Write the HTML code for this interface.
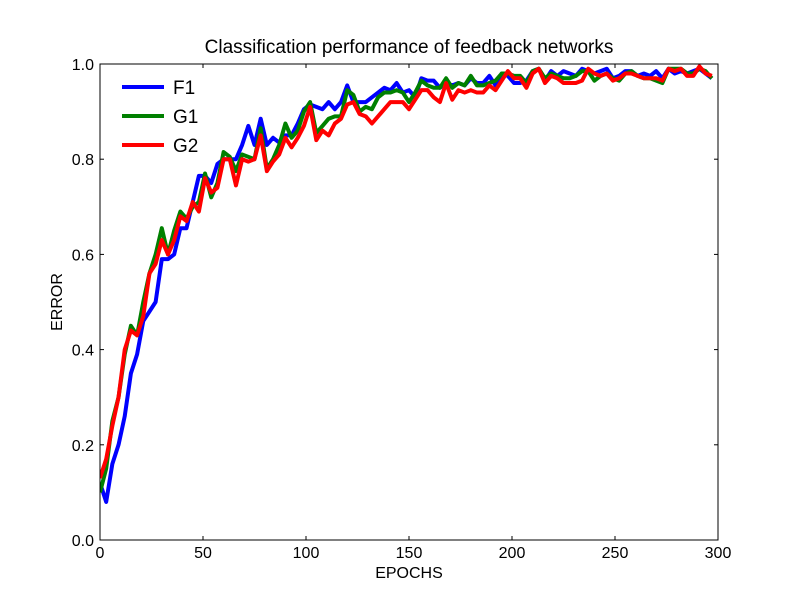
<!DOCTYPE html>
<html><head><meta charset="utf-8"><style>body{margin:0;background:#fff}svg{font-family:"Liberation Sans","DejaVu Sans",sans-serif}</style></head>
<body>
<svg id="chart" width="800" height="600">
<rect width="800" height="600" fill="#fff"/>
</svg>
<script>
const epochs=[];for(let i=0;i<100;i++)epochs.push(i*3);
const f1=[0.12,0.08,0.16,0.2,0.26,0.35,0.39,0.46,0.48,0.5,0.59,0.59,0.6,0.655,0.655,0.71,0.765,0.765,0.75,0.79,0.8,0.8,0.8,0.83,0.87,0.83,0.885,0.83,0.845,0.835,0.85,0.85,0.875,0.905,0.915,0.91,0.905,0.92,0.905,0.92,0.955,0.92,0.92,0.92,0.93,0.94,0.95,0.945,0.96,0.94,0.945,0.93,0.97,0.965,0.965,0.95,0.96,0.955,0.96,0.955,0.97,0.96,0.96,0.975,0.955,0.98,0.975,0.96,0.96,0.965,0.985,0.99,0.965,0.985,0.975,0.985,0.98,0.975,0.99,0.985,0.98,0.985,0.99,0.97,0.975,0.985,0.985,0.975,0.98,0.975,0.985,0.97,0.99,0.98,0.985,0.98,0.985,0.99,0.98,0.97];
const g1=[0.1,0.15,0.25,0.3,0.39,0.45,0.43,0.5,0.56,0.6,0.655,0.6,0.65,0.69,0.675,0.7,0.71,0.77,0.72,0.75,0.815,0.805,0.775,0.81,0.805,0.8,0.865,0.78,0.8,0.83,0.875,0.845,0.86,0.9,0.92,0.855,0.87,0.885,0.89,0.89,0.945,0.935,0.9,0.91,0.905,0.93,0.94,0.94,0.945,0.94,0.92,0.94,0.965,0.955,0.95,0.95,0.97,0.95,0.96,0.955,0.975,0.955,0.955,0.96,0.965,0.98,0.98,0.975,0.975,0.96,0.985,0.99,0.97,0.98,0.975,0.97,0.97,0.975,0.985,0.985,0.965,0.975,0.98,0.97,0.965,0.98,0.985,0.975,0.97,0.97,0.965,0.96,0.99,0.99,0.99,0.98,0.98,0.99,0.985,0.97];
const g2=[0.13,0.17,0.24,0.3,0.4,0.44,0.43,0.47,0.56,0.58,0.63,0.6,0.63,0.68,0.67,0.71,0.69,0.76,0.73,0.74,0.8,0.8,0.745,0.8,0.795,0.8,0.85,0.775,0.795,0.81,0.845,0.825,0.845,0.87,0.91,0.84,0.86,0.85,0.875,0.885,0.915,0.92,0.895,0.89,0.875,0.89,0.905,0.92,0.92,0.92,0.905,0.925,0.945,0.945,0.93,0.92,0.96,0.925,0.945,0.94,0.945,0.94,0.94,0.955,0.945,0.965,0.985,0.97,0.97,0.95,0.98,0.99,0.96,0.975,0.97,0.96,0.96,0.96,0.965,0.99,0.98,0.975,0.98,0.965,0.97,0.98,0.98,0.975,0.97,0.97,0.97,0.965,0.99,0.985,0.99,0.975,0.975,0.995,0.98,0.975];
const xTicks=[0,50,100,150,200,250,300];
const yTicks=[0.0,0.2,0.4,0.6,0.8,1.0];
const series=[["F1",f1,"#0000ff"],["G1",g1,"#008000"],["G2",g2,"#ff0000"]];
const L=100,R=718,T=64,B=540;
const sx=v=>L+(v-0)/300*(R-L), sy=v=>B-(v-0)/1*(B-T);
const svg=document.getElementById('chart');const NS='http://www.w3.org/2000/svg';
function mk(t,a,p){const e=document.createElementNS(NS,t);for(const k in a)e.setAttribute(k,a[k]);(p||svg).appendChild(e);return e;}
const clip=mk('clipPath',{id:'c'});mk('rect',{x:L,y:T,width:R-L,height:B-T},clip);
series.forEach(s=>{const p=mk('polyline',{points:s[1].map((v,i)=>sx(epochs[i])+','+sy(v)).join(' '),fill:'none',stroke:s[2],'stroke-width':4,'stroke-linejoin':'round','clip-path':'url(#c)'});

});
const fr=mk('rect',{x:L,y:T,width:R-L,height:B-T,fill:'none',stroke:'#000','stroke-width':1});


xTicks.forEach(v=>{const x=sx(v);mk('line',{x1:x,x2:x,y1:B,y2:B-4,stroke:'#000'});mk('line',{x1:x,x2:x,y1:T,y2:T+4,stroke:'#000'});
const t=mk('text',{x:x,y:B+18,'text-anchor':'middle','font-size':16});t.textContent=v;

});
yTicks.forEach(v=>{const y=sy(v);mk('line',{x1:L,x2:L+4,y1:y,y2:y,stroke:'#000'});mk('line',{x1:R,x2:R-4,y1:y,y2:y,stroke:'#000'});
const t=mk('text',{x:L-6,y:y+6,'text-anchor':'end','font-size':16});t.textContent=v.toFixed(1);

});
let t=mk('text',{x:409,y:53,'text-anchor':'middle','font-size':19});t.textContent='Classification performance of feedback networks';


t=mk('text',{x:409,y:578,'text-anchor':'middle','font-size':16});t.textContent='EPOCHS';


t=mk('text',{x:62,y:302,'text-anchor':'middle','font-size':16,transform:'rotate(-90 62 302)'});t.textContent='ERROR';


series.forEach((s,i)=>{const y=87+i*29;const g=mk('g',{});


mk('line',{x1:122,x2:164,y1:y,y2:y,stroke:s[2],'stroke-width':4},g);
const tt=mk('text',{x:173,y:y+7,'font-size':19},g);tt.textContent=s[0];});
</script>
</body></html>
